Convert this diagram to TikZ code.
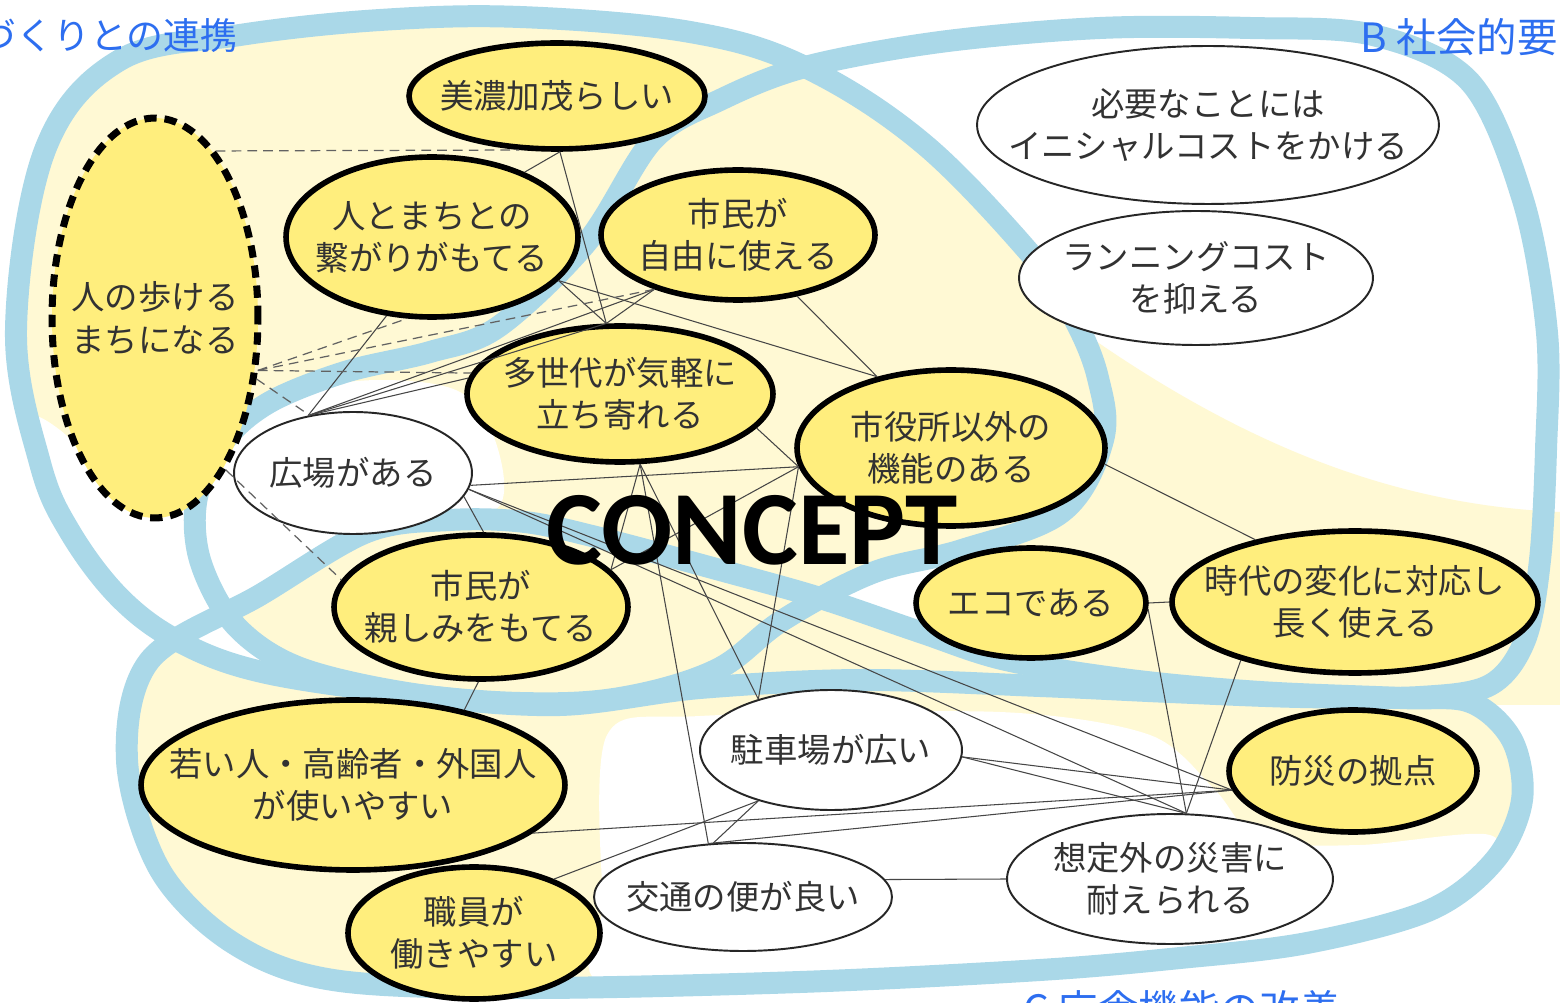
\documentclass[tikz,border=0pt]{standalone}
\usepackage{fontspec}
\setmainfont{Noto Sans CJK JP}
\newfontfamily\conceptfont{Carlito}
\usetikzlibrary{shapes.geometric}
\definecolor{band}{RGB}{170,216,232}
\definecolor{paleyellow}{RGB}{255,249,212}
\definecolor{nodeyellow}{RGB}{255,238,125}
\definecolor{titleblue}{RGB}{45,110,240}
\definecolor{textgray}{RGB}{50,50,50}
\definecolor{linegray}{RGB}{70,70,70}
\newcommand\blobA{plot[smooth cycle, tension=0.6] coordinates {(240,35) (120,60) (45,150) (16,330) (40,463) (70,532) (120,598) (180,642) (262,672) (400,693) (520,703) (620,698) (716,670) (783,620) (872,573) (962,550) (1062,512) (1103,440) (1098,378) (1075,320) (1040,265) (925,145) (805,67) (690,32) (520,17) (380,20)}}
\newcommand\blobB{plot[smooth cycle, tension=0.55] coordinates {(805,67) (940,42) (1100,28) (1250,28) (1373,35) (1470,82) (1523,200) (1547,333) (1546,450) (1540,560) (1525,640) (1490,685) (1420,697) (1300,697) (1170,692) (1040,686) (860,680) (700,688) (560,705) (420,695) (300,668) (235,625) (200,560) (197,497) (225,440) (270,402) (345,372) (430,352) (498,327) (587,242) (653,140) (720,100)}}
\newcommand\blobC{plot[smooth cycle, tension=0.55] coordinates {(150,660) (260,595) (367,532) (450,520) (525,522) (600,538) (720,570) (820,598) (920,632) (1006,660) (1130,680) (1260,692) (1400,698) (1470,702) (1512,740) (1522,800) (1495,860) (1430,910) (1307,943) (1180,958) (1040,970) (800,982) (520,988) (333,980) (233,943) (160,870) (127,760)}}
\begin{document}
\begin{tikzpicture}[x=0.02cm,y=-0.02cm,
  bandline/.style={draw=band, line width=0.44cm},
  ynode/.style={ellipse, draw=black, line width=3.2pt, fill=nodeyellow, inner sep=0},
  wnode/.style={ellipse, draw=black!85, line width=1.1pt, fill=white, inner sep=0},
  dnode/.style={ellipse, draw=black, line width=4pt, dash pattern=on 7pt off 4.5pt, fill=nodeyellow, inner sep=0},
  ntext/.style={align=center, text=textgray, font=\fontsize{19}{24}\selectfont, inner sep=0},
  link/.style={draw=linegray, line width=0.6pt},
  dlink/.style={draw=linegray!85, line width=0.7pt, dash pattern=on 5.5pt off 3.5pt},
  titletext/.style={text=titleblue, font=\fontsize{23}{27}\selectfont, inner sep=0}
]
\useasboundingbox (0,0) rectangle (1560,1003);
\clip (0,0) rectangle (1560,1003);
\fill[white] (0,0) rectangle (1560,1003);
% pale yellow areas
\fill[paleyellow] \blobA;
\fill[paleyellow] \blobC;
\fill[paleyellow] (1080,330) .. controls (1250,450) and (1400,505) .. (1560,512) -- (1560,705) -- (980,705) -- (980,560) -- cycle;
% white areas
\fill[white] plot[smooth cycle, tension=0.6] coordinates {(200,480) (235,425) (300,392) (380,380) (460,392) (495,440) (500,505) (440,522) (367,535) (270,592) (215,600)};
\fill[white] plot[smooth cycle, tension=0.6] coordinates {(30,420) (50,490) (85,555) (130,605) (190,645) (262,672) (300,668) (240,630) (205,570) (196,505) (160,505) (110,480) (60,430)};
\fill[white] plot[smooth cycle, tension=0.5] coordinates {(607,735) (700,716) (1000,712) (1150,735) (1215,790) (1260,840) (1360,845) (1490,835) (1490,885) (1307,948) (1040,975) (620,990) (603,900)};
% blue bands
\draw[bandline] \blobA;
\draw[bandline] \blobB;
\draw[bandline] \blobC;
% nodes
\node[ynode, minimum width=5.92cm, minimum height=2.12cm, label={[ntext]center:美濃加茂らしい}] (mino) at (557,96) {};
\node[ynode, minimum width=5.84cm, minimum height=3.2cm, label={[ntext]center:人とまちとの\\繋がりがもてる}] (hito) at (432,237) {};
\node[ynode, minimum width=5.48cm, minimum height=2.6cm, label={[ntext]center:市民が\\自由に使える}] (jiyu) at (738,235) {};
\node[dnode, minimum width=4.12cm, minimum height=8.0cm, label={[ntext]center:人の歩ける\\まちになる}] (aruke) at (155,318) {};
\node[ynode, minimum width=6.12cm, minimum height=2.72cm, label={[ntext]center:多世代が気軽に\\立ち寄れる}] (tase) at (620,394) {};
\node[wnode, minimum width=4.76cm, minimum height=2.44cm, label={[ntext]center:広場がある}] (hiroba) at (353,473) {};
\node[ynode, minimum width=6.16cm, minimum height=3.12cm, label={[ntext]center:市役所以外の\\機能のある}] (shiyaku) at (951,448) {};
\node[wnode, minimum width=9.24cm, minimum height=3.16cm, label={[ntext]center:必要なことには\\イニシャルコストをかける}] (initial) at (1208,125) {};
\node[wnode, minimum width=7.08cm, minimum height=2.68cm, label={[ntext]center:ランニングコスト\\を抑える}] (running) at (1196,278) {};
\node[ynode, minimum width=5.88cm, minimum height=2.88cm, label={[ntext]center:市民が\\親しみをもてる}] (shitash) at (481,607) {};
\node[ynode, minimum width=4.6cm, minimum height=2.2cm, label={[ntext]center:エコである}] (eco) at (1031,603) {};
\node[ynode, minimum width=7.32cm, minimum height=2.84cm, label={[ntext]center:時代の変化に対応し\\長く使える}] (jidai) at (1355,602) {};
\node[ynode, minimum width=8.48cm, minimum height=3.4cm, label={[ntext]center:若い人・高齢者・外国人\\が使いやすい}] (wakai) at (353,785) {};
\node[wnode, minimum width=5.24cm, minimum height=2.4cm, label={[ntext]center:駐車場が広い}] (chusha) at (831,750) {};
\node[ynode, minimum width=4.96cm, minimum height=2.44cm, label={[ntext]center:防災の拠点}] (bosai) at (1353,771) {};
\node[ynode, minimum width=5.04cm, minimum height=2.64cm, label={[ntext]center:職員が\\働きやすい}] (shokuin) at (474,933) {};
\node[wnode, minimum width=5.96cm, minimum height=2.16cm, label={[ntext]center:交通の便が良い}] (kotsu) at (743,897) {};
\node[wnode, minimum width=6.52cm, minimum height=2.6cm, label={[ntext]center:想定外の災害に\\耐えられる}] (soutei) at (1170,879) {};
% solid connectors
\draw[link] (mino.-87) -- (hito.35);
\draw[link] (mino.-87) -- (tase.101);
\draw[link] (hito.-19) -- (tase.101);
\draw[link] (hito.-19) -- (shiyaku.136);
\draw[link] (hito.-120) -- (hiroba.128);
\draw[link] (jiyu.-147) -- (tase.101);
\draw[link] (jiyu.-46) -- (shiyaku.136);
\draw[link] (hiroba.128) -- (jiyu.-147);
\draw[link] (hiroba.128) -- (tase.174);
\draw[link] (hiroba.128) -- (tase.101);
\draw[link] (hiroba.-6) -- (shiyaku.-173);
\draw[link] (hiroba.-12) -- (shitash.88);
\draw[link] (hiroba.-8) -- (soutei.76);
\draw[link] (hiroba.-8) -- (bosai.-171);
\draw[link] (tase.-74) -- (shitash.16);
\draw[link] (tase.-74) -- (kotsu.123);
\draw[link] (tase.-74) -- (chusha.145);
\draw[link] (tase.-14) -- (shiyaku.-173);
\draw[link] (shiyaku.-173) -- (chusha.145);
\draw[link] (shiyaku.-173) -- (shitash.16);
\draw[link] (shiyaku.-6) -- (jidai.148);
\draw[link] (eco.0) -- (jidai.180);
\draw[link] (eco.-3) -- (soutei.76);
\draw[link] (jidai.-153) -- (soutei.76);
\draw[link] (chusha.-3) -- (bosai.-171);
\draw[link] (chusha.-3) -- (soutei.76);
\draw[link] (wakai.-15) -- (bosai.-171);
\draw[link] (kotsu.123) -- (bosai.-171);
\draw[link] (shokuin.34) -- (chusha.-145);
\draw[link] (kotsu.119) -- (chusha.-145);
\draw[link] (kotsu.7) -- (soutei.180);
\draw[link] (shitash.-92) -- (wakai.34);
% dashed connectors
\draw[dlink] (aruke.70) -- (mino.-125);
\draw[dlink] (aruke.-27) -- (hito.-107);
\draw[dlink] (aruke.-27) -- (jiyu.-147);
\draw[dlink] (aruke.-27) -- (tase.172);
\draw[dlink] (aruke.-31) -- (hiroba.127);
\draw[dlink] (aruke.-65) -- (shitash.169);
% big label
\node[font=\conceptfont\bfseries\fontsize{60}{60}\selectfont, inner sep=0] (concept) at (752,530) {CONCEPT};
% titles
\node[titletext, font=\fontsize{21}{25}\selectfont, anchor=east] (titleA) at (238,36) {づくりとの連携};
\node[titletext, anchor=east] (titleB) at (1558,37) {B 社会的要};
\node[titletext, anchor=north] (titleC) at (1182,990) {C 庁舎機能の改善};
\end{tikzpicture}
\end{document}
